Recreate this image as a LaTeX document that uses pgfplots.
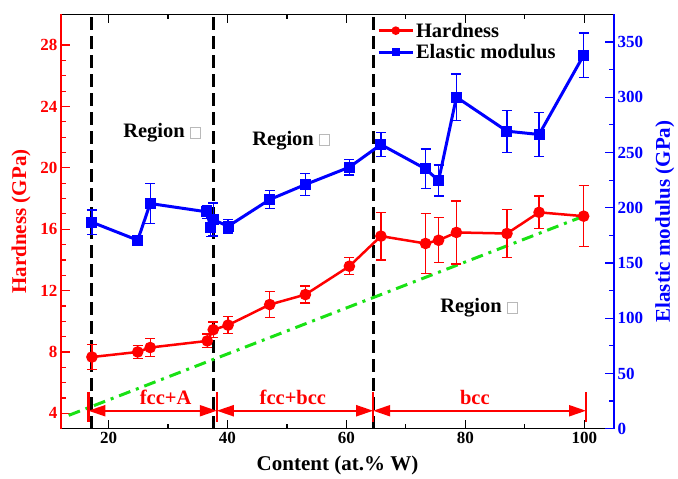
\documentclass[border=0pt]{standalone}
\usepackage{pgfplots}
\pgfplotsset{compat=1.18}
\usepackage{pgfplotstable}
\usepackage{fontspec}
\setmainfont{Liberation Serif}
\usetikzlibrary{arrows.meta}
\definecolor{hgreen}{RGB}{25,225,20}
\newcommand\tofu{\textcolor{gray!55}{\setlength\fboxsep{0pt}\setlength\fboxrule{0.7pt}\fbox{\rule{0pt}{10.5pt}\hspace{9.5pt}}}}

\pgfplotstableread{
x y e
17.2 7.67 0.80
24.9 8.00 0.43
27.0 8.29 0.60
36.6 8.72 0.45
37.6 9.45 0.50
40.1 9.75 0.55
47.1 11.09 0.85
53.1 11.74 0.55
60.5 13.59 0.55
65.8 15.55 1.55
73.3 15.07 1.97
75.5 15.28 1.47
78.5 15.79 2.05
87.0 15.72 1.55
92.4 17.10 1.07
99.9 16.85 1.98
}\hardness

\pgfplotstableread{
x y e
17.2 186.9 11
24.9 170.6 3
27.0 203.8 18
36.5 196.3 6
37.2 182.0 8
37.6 189.3 15
40.1 183.2 6
47.1 207.4 8
53.1 221.0 10
60.5 236.7 7
65.8 257.2 11
73.3 235.2 18
75.5 224.6 14
78.5 300.1 21
87.0 269.3 19
92.4 266.3 20
99.9 338.1 20
}\modulus

\begin{document}
\begin{tikzpicture}
\pgfplotsset{
  common/.style={
    scale only axis, width=553pt, height=414.3pt,
    xmin=12, xmax=105,
    tick align=inside,
    major tick length=9pt, minor tick length=5pt,
    /pgf/number format/assume math mode=true,
    ticklabel style={font=\fontsize{17}{17}\selectfont\bfseries},
    label style={font=\fontsize{21}{24}\selectfont\bfseries},
  }
}
\begin{axis}[common,
  ymin=3, ymax=30,
  axis x line*=box, axis y line*=left,
  xtick={20,40,60,80,100}, minor x tick num=1,
  ytick={4,8,...,28}, minor y tick num=3,
  x axis line style={black, line width=1.5pt},
  y axis line style={red, line width=1.5pt},
  xtick style={black, line width=1.2pt},
  ytick style={red, line width=1.2pt},
  yticklabel style={red},
  xlabel={Content (at.\% W)},
  ylabel={Hardness (GPa)},
  xlabel style={at={(axis description cs:0.5,-0.089)}, anchor=center, black},
  ylabel style={at={(axis description cs:-0.072,0.5)}, anchor=center, red},
]
% phase boundaries
\draw[black, line width=3pt, dash pattern=on 13pt off 6pt] (axis cs:17.2,3) -- (axis cs:17.2,30);
\draw[black, line width=3pt, dash pattern=on 13pt off 6pt] (axis cs:37.6,3) -- (axis cs:37.6,30);
\draw[black, line width=3pt, dash pattern=on 13pt off 6pt] (axis cs:64.55,3) -- (axis cs:64.55,30);
% green guide line
\addplot[forget plot, color=hgreen, line width=3pt, dash pattern=on 12pt off 6pt on 3pt off 6pt] coordinates {(13.3,3.87) (99.9,16.85)};
% hardness
\addplot[forget plot, red, line width=2.5pt, mark=*, mark size=4.5pt,
  error bars/.cd, y dir=both, y explicit,
  error bar style={line width=1.3pt, red},
  error mark options={rotate=90, mark size=5pt, line width=1.3pt, red}]
  table[x=x, y=y, y error=e] {\hardness};
% phase arrows
\draw[red, line width=2.5pt] (axis cs:16.6,3.45) -- (axis cs:16.6,5.4);
\draw[red, line width=2.5pt] (axis cs:38.2,3.45) -- (axis cs:38.2,5.4);
\draw[red, line width=2.5pt] (axis cs:64.5,3.45) -- (axis cs:64.5,5.4);
\draw[red, line width=2.5pt] (axis cs:100.3,3.45) -- (axis cs:100.3,5.4);
\draw[red, line width=2pt, {Triangle[length=17pt,width=11pt]}-{Triangle[length=17pt,width=11pt]}] (axis cs:16.6,4.17) -- (axis cs:38.2,4.17);
\draw[red, line width=2pt, {Triangle[length=17pt,width=11pt]}-{Triangle[length=17pt,width=11pt]}] (axis cs:38.2,4.17) -- (axis cs:64.5,4.17);
\draw[red, line width=2pt, {Triangle[length=17pt,width=11pt]}-{Triangle[length=17pt,width=11pt]}] (axis cs:64.5,4.17) -- (axis cs:100.3,4.17);
\node[red, anchor=base, font=\fontsize{20.5}{22}\selectfont\bfseries] at (axis cs:29.6,4.55) {fcc+A};
\node[red, anchor=base, font=\fontsize{20.5}{22}\selectfont\bfseries] at (axis cs:51.0,4.55) {fcc+bcc};
\node[red, anchor=base, font=\fontsize{20.5}{22}\selectfont\bfseries] at (axis cs:81.6,4.55) {bcc};
% region labels
\node[black, anchor=center, font=\fontsize{20.5}{22}\selectfont\bfseries] at (axis cs:29.0,22.27) {Region \tofu};
\node[black, anchor=center, font=\fontsize{20.5}{22}\selectfont\bfseries] at (axis cs:50.7,21.8) {Region \tofu};
\node[black, anchor=center, font=\fontsize{20.5}{22}\selectfont\bfseries] at (axis cs:82.3,10.87) {Region \tofu};
\end{axis}

\begin{axis}[common,
  ymin=0, ymax=375,
  axis x line=none, axis y line*=right,
  ytick={0,50,...,350}, minor y tick num=1,
  y axis line style={blue, line width=1.5pt},
  ytick style={blue, line width=1.2pt},
  yticklabel style={blue},
  ylabel={Elastic modulus (GPa)},
  ylabel style={at={(axis description cs:1.092,0.5)}, anchor=center, blue},
  legend style={at={(axis description cs:0.572,0.985)}, anchor=north west,
    draw=none, fill=none, inner sep=0pt, row sep=2pt,
    font=\fontsize{20.5}{22}\selectfont\bfseries,
    /tikz/every even column/.append style={column sep=4pt}},
  legend cell align=left,
  legend image code/.code={\draw[mark repeat=2, mark phase=2, #1] plot coordinates {(0pt,0pt) (17pt,0pt) (34pt,0pt)};},
]
\addlegendimage{red, line width=2.5pt, mark=*, mark size=3pt}
\addlegendentry{Hardness}
\addlegendimage{blue, line width=2.5pt, mark=square*, mark size=2.8pt}
\addlegendentry{Elastic modulus}
\addplot[forget plot, blue, line width=3pt, mark=square*, mark size=4pt,
  error bars/.cd, y dir=both, y explicit,
  error bar style={line width=1.3pt, blue},
  error mark options={rotate=90, mark size=5pt, line width=1.3pt, blue}]
  table[x=x, y=y, y error=e] {\modulus};
\end{axis}
\pgfresetboundingbox
\useasboundingbox (-61pt,-50pt) rectangle (617pt,428.7pt);
\end{tikzpicture}
\end{document}
